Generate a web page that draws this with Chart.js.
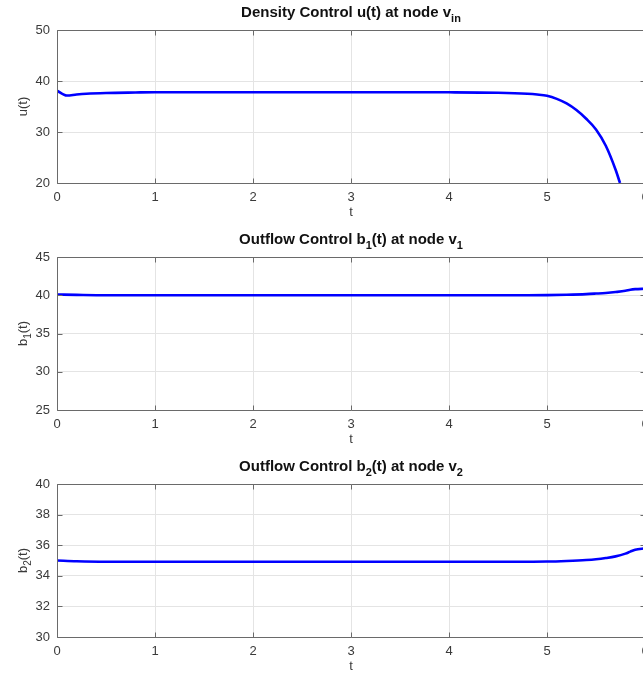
<!DOCTYPE html>
<html>
<head>
<meta charset="utf-8">
<script src="https://cdn.jsdelivr.net/npm/chart.js@4.4.1/dist/chart.umd.min.js"></script>
<style>
  html, body { margin: 0; padding: 0; background: #fff; }
  #wrap { position: relative; width: 643px; height: 680px; overflow: hidden; background: #fff; }
  #wrap canvas { position: absolute; left: 0; }
</style>
</head>
<body>
<div id="wrap">
  <canvas id="uChart" width="720" height="227" style="top:0"></canvas>
  <canvas id="b1Chart" width="720" height="227" style="top:227px"></canvas>
  <canvas id="b2Chart" width="720" height="227" style="top:454px"></canvas>
</div>
<script>
// values
const T_U = [0, 0.1, 0.2, 0.3, 0.5, 0.8, 1, 2, 3, 4, 4.5, 4.8, 4.9, 5.0, 5.1, 5.2, 5.3, 5.4, 5.5, 5.6, 5.7, 5.745];
const U_VALUES = [38.1, 37.15, 37.35, 37.5, 37.65, 37.75, 37.8, 37.8, 37.8, 37.78, 37.7, 37.5, 37.35, 37.1, 36.5, 35.6, 34.3, 32.6, 30.5, 27.3, 22.6, 20];

const T_B = [0, 0.2, 0.5, 1, 2, 3, 4, 4.8, 5.0, 5.2, 5.4, 5.5, 5.6, 5.7, 5.8, 5.85, 5.9, 6.0];
const B1_VALUES = [40.1, 40.05, 40.0, 40.0, 40.0, 40.0, 40.0, 40.0, 40.02, 40.07, 40.15, 40.22, 40.3, 40.42, 40.58, 40.72, 40.8, 40.85];
const B2_VALUES = [35.0, 34.95, 34.92, 34.92, 34.92, 34.92, 34.92, 34.92, 34.93, 34.97, 35.03, 35.08, 35.16, 35.27, 35.45, 35.58, 35.7, 35.8];

const X_TICKS = [0, 1, 2, 3, 4, 5, 6];
const U_TICKS = [20, 30, 40, 50];
const B1_TICKS = [25, 30, 35, 40, 45];
const B2_TICKS = [30, 32, 34, 36, 38, 40];

const FONT = '"Liberation Sans", Arial, Helvetica, sans-serif';
const TEXT_COLOR = "#3a3a3a";
const AXIS_COLOR = "#6a6a6a";
const GRID_COLOR = "#e4e4e4";
const LINE_COLOR = "#0000ff";
const TICK_LEN = 5;

Chart.defaults.font.family = FONT;
Chart.defaults.color = TEXT_COLOR;

// split "b_1(t)" / "v_{in}" into normal and subscript parts
function splitSub(str) {
  const parts = [];
  const re = /_\{([^}]*)\}|_(.)/g;
  let last = 0, m;
  while ((m = re.exec(str))) {
    if (m.index > last) parts.push({ text: str.slice(last, m.index), sub: false });
    parts.push({ text: m[1] ?? m[2], sub: true });
    last = re.lastIndex;
  }
  if (last < str.length) parts.push({ text: str.slice(last), sub: false });
  return parts;
}

function drawRich(ctx, str, x, y, size, weight) {
  const parts = splitSub(str);
  const mainFont = `${weight} ${size}px ${FONT}`;
  const subFont = `${weight} ${Math.round(size * 0.75)}px ${FONT}`;
  let total = 0;
  parts.forEach(p => {
    ctx.font = p.sub ? subFont : mainFont;
    p.w = ctx.measureText(p.text).width;
    total += p.w;
  });
  let cx = x - total / 2;
  ctx.textAlign = "left";
  ctx.textBaseline = "alphabetic";
  parts.forEach(p => {
    ctx.font = p.sub ? subFont : mainFont;
    ctx.fillText(p.text, cx, p.sub ? y + size * 0.32 : y);
    cx += p.w;
  });
}

// matlab-like box, inward ticks, title and y label
const matlabFrame = {
  id: "matlabFrame",
  afterDraw(chart, args, opts) {
    const { ctx, chartArea: a } = chart;
    const xs = chart.scales.x, ys = chart.scales.y;
    ctx.save();
    ctx.strokeStyle = AXIS_COLOR;
    ctx.lineWidth = 1;
    ctx.beginPath();
    const L = Math.round(a.left) + 0.5, R = Math.round(a.right) + 0.5;
    const T = Math.round(a.top) + 0.5, B = Math.round(a.bottom) + 0.5;
    ctx.rect(L, T, R - L, B - T);
    xs.ticks.forEach(t => {
      const px = Math.round(xs.getPixelForValue(t.value)) + 0.5;
      ctx.moveTo(px, B); ctx.lineTo(px, B - TICK_LEN);
      ctx.moveTo(px, T); ctx.lineTo(px, T + TICK_LEN);
    });
    ys.ticks.forEach(t => {
      const py = Math.round(ys.getPixelForValue(t.value)) + 0.5;
      ctx.moveTo(L, py); ctx.lineTo(L + TICK_LEN, py);
      ctx.moveTo(R, py); ctx.lineTo(R - TICK_LEN, py);
    });
    ctx.stroke();

    ctx.fillStyle = "#111";
    drawRich(ctx, opts.title, (a.left + a.right) / 2, a.top - 13, 15, "bold");

    ctx.fillStyle = TEXT_COLOR;
    ctx.translate(27, (a.top + a.bottom) / 2);
    ctx.rotate(-Math.PI / 2);
    drawRich(ctx, opts.ylabel, 0, 0, 13, "normal");
    ctx.restore();
  }
};

function makeChart(canvasId, times, values, yTicks, title, ylabel) {
  const points = times.map((t, i) => ({ x: t, y: values[i] }));
  return new Chart(document.getElementById(canvasId), {
    type: "line",
    data: {
      datasets: [{
        data: points,
        borderColor: LINE_COLOR,
        borderWidth: 2.6,
        pointRadius: 0,
        cubicInterpolationMode: "monotone",
        fill: false
      }]
    },
    options: {
      responsive: false,
      animation: false,
      devicePixelRatio: 1,
      layout: { padding: { top: 30, right: 75, bottom: 0, left: 0 } },
      plugins: {
        legend: { display: false },
        tooltip: { enabled: false },
        matlabFrame: { title, ylabel }
      },
      scales: {
        x: {
          type: "linear",
          min: X_TICKS[0],
          max: X_TICKS[X_TICKS.length - 1],
          afterBuildTicks: s => { s.ticks = X_TICKS.map(v => ({ value: v })); },
          afterFit: s => { s.height = 44; },
          grid: { color: GRID_COLOR, drawTicks: false },
          border: { display: false },
          ticks: { font: { size: 13 }, color: TEXT_COLOR, padding: 7, maxRotation: 0 },
          title: { display: true, text: "t", font: { size: 13 }, color: TEXT_COLOR, padding: { top: 0, bottom: 7 } }
        },
        y: {
          min: yTicks[0],
          max: yTicks[yTicks.length - 1],
          afterBuildTicks: s => { s.ticks = yTicks.map(v => ({ value: v })); },
          afterFit: s => { s.width = 57; },
          grid: { color: GRID_COLOR, drawTicks: false },
          border: { display: false },
          ticks: { font: { size: 13 }, color: TEXT_COLOR, padding: 7 }
        }
      }
    },
    plugins: [matlabFrame]
  });
}

makeChart("uChart", T_U, U_VALUES, U_TICKS, "Density Control u(t) at node v_{in}", "u(t)");
makeChart("b1Chart", T_B, B1_VALUES, B1_TICKS, "Outflow Control b_1(t) at node v_1", "b_1(t)");
makeChart("b2Chart", T_B, B2_VALUES, B2_TICKS, "Outflow Control b_2(t) at node v_2", "b_2(t)");
</script>
</body>
</html>
